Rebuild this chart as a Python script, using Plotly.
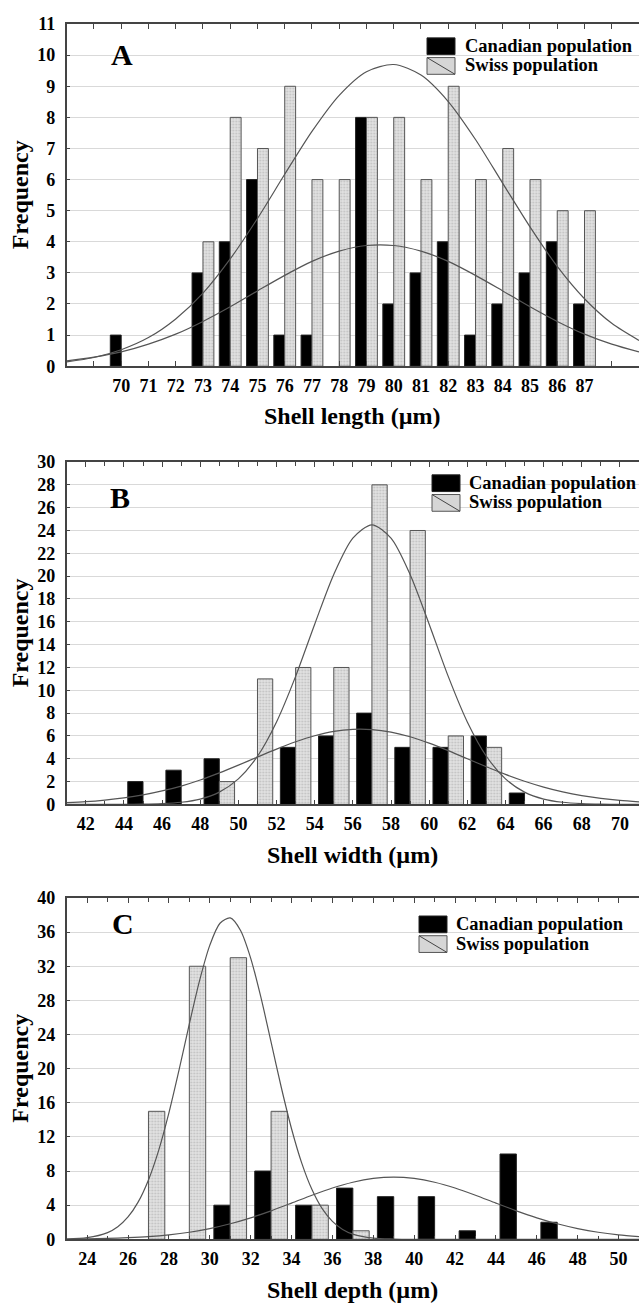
import plotly.graph_objects as go

W, H = 639, 1315

# ---------------- data ----------------
# Panel A: shell length (bin width 1 µm)
a_bins = [70, 71, 72, 73, 74, 75, 76, 77, 78, 79, 80, 81, 82, 83, 84, 85, 86, 87]
a_canadian = [1, 0, 0, 3, 4, 6, 1, 1, 0, 8, 2, 3, 4, 1, 2, 3, 4, 2]
a_swiss = [0, 0, 0, 4, 8, 7, 9, 6, 6, 8, 8, 6, 9, 6, 7, 6, 5, 5]
a_ticks = [69, 70, 71, 72, 73, 74, 75, 76, 77, 78, 79, 80, 81, 82, 83, 84, 85, 86, 87, 88]
a_tick_labels = ["", "70", "71", "72", "73", "74", "75", "76", "77", "78", "79",
                 "80", "81", "82", "83", "84", "85", "86", "87", ""]
a_curve_x = [68, 69, 70, 71, 72, 73, 74, 75, 76, 77, 78, 79, 80, 81, 82, 83, 84, 85, 86, 87, 88, 89]
a_swiss_curve = [0.14, 0.28, 0.53, 0.92, 1.52, 2.35, 3.45, 4.75, 6.17, 7.55, 8.71, 9.47,
                 9.70, 9.36, 8.51, 7.29, 5.88, 4.48, 3.21, 2.17, 1.38, 0.83]
a_canadian_curve = [0.17, 0.29, 0.46, 0.71, 1.03, 1.44, 1.91, 2.42, 2.92, 3.37, 3.70, 3.88,
                    3.88, 3.70, 3.37, 2.92, 2.42, 1.91, 1.44, 1.03, 0.71, 0.46]

# Panel B: shell width (bin width 2 µm)
b_bins = [45, 47, 49, 51, 53, 55, 57, 59, 61, 63, 65]
b_canadian = [2, 3, 4, 0, 5, 6, 8, 5, 5, 6, 1]
b_swiss = [0, 0, 2, 11, 12, 12, 28, 24, 6, 5, 0]
b_ticks = [42, 44, 46, 48, 50, 52, 54, 56, 58, 60, 62, 64, 66, 68, 70]
b_tick_labels = ["42", "44", "46", "48", "50", "52", "54", "56", "58", "60", "62", "64", "66", "68", "70"]
b_curve_x = [41, 42, 43, 44, 45, 46, 47, 48, 49, 50, 51, 52, 53, 54, 55, 56, 57, 58, 59, 60,
             61, 62, 63, 64, 65, 66, 67, 68, 69, 70, 71]
b_swiss_curve = [0.0, 0.0, 0.0, 0.01, 0.02, 0.07, 0.19, 0.47, 1.08, 2.24, 4.22, 7.23, 11.22,
                 15.79, 20.15, 23.33, 24.50, 23.33, 20.15, 15.79, 11.22, 7.23, 4.22, 2.24,
                 1.08, 0.47, 0.19, 0.07, 0.02, 0.01, 0.0]
b_canadian_curve = [0.15, 0.24, 0.38, 0.57, 0.83, 1.18, 1.61, 2.14, 2.76, 3.44, 4.15, 4.85,
                    5.49, 6.02, 6.40, 6.58, 6.56, 6.34, 5.93, 5.37, 4.71, 4.00, 3.30, 2.63,
                    2.03, 1.52, 1.10, 0.77, 0.53, 0.35, 0.22]

# Panel C: shell depth (bin width 2 µm)
c_bins = [27, 29, 31, 33, 35, 37, 39, 41, 43, 45, 47]
c_canadian = [0, 0, 4, 8, 4, 6, 5, 5, 1, 10, 2]
c_swiss = [15, 32, 33, 15, 4, 1, 0, 0, 0, 0, 0]
c_ticks = [24, 26, 28, 30, 32, 34, 36, 38, 40, 42, 44, 46, 48, 50]
c_tick_labels = ["24", "26", "28", "30", "32", "34", "36", "38", "40", "42", "44", "46", "48", "50"]
c_swiss_curve_x = [23, 24, 25, 25.5, 26, 26.5, 27, 27.5, 28, 28.5, 29, 29.5, 30, 30.5, 31,
                   31.5, 32, 32.5, 33, 33.5, 34, 34.5, 35, 35.5, 36, 36.5, 37, 38, 39, 40,
                   42, 44, 46, 48, 50, 51]
c_swiss_curve = [0.04, 0.19, 0.79, 1.48, 2.62, 4.39, 6.96, 10.43, 14.81, 19.88, 25.24, 30.32,
                 34.45, 37.04, 37.66, 36.22, 32.96, 28.37, 23.10, 17.79, 12.96, 8.93, 5.83,
                 3.59, 2.10, 1.16, 0.61, 0.14, 0.03, 0.0, 0.0, 0.0, 0.0, 0.0, 0.0, 0.0]
c_canadian_curve_x = [23, 24, 25, 26, 27, 28, 29, 30, 31, 32, 33, 34, 35, 36, 37, 38, 39, 40,
                      41, 42, 43, 44, 45, 46, 47, 48, 49, 50, 51]
c_canadian_curve = [0.03, 0.06, 0.10, 0.19, 0.32, 0.53, 0.83, 1.26, 1.82, 2.52, 3.34, 4.24,
                    5.16, 6.01, 6.69, 7.14, 7.30, 7.14, 6.69, 6.01, 5.16, 4.24, 3.34, 2.52,
                    1.82, 1.26, 0.83, 0.53, 0.32]

series_names = ["Canadian population", "Swiss population"]
panel_letters = ["A", "B", "C"]
x_titles = ["Shell length (µm)", "Shell width (µm)", "Shell depth (µm)"]
y_title = "Frequency"

# ---------------- layout helpers ----------------
FONT = "Liberation Serif, Times New Roman, serif"
LEFT = 66.7
px = lambda v: v / W
py = lambda v: 1 - v / H

panels = [
    dict(bins=a_bins, can=a_canadian, sw=a_swiss, bw=1, xr=[68, 89], yr=[0, 11], dy=1,
         ticks=a_ticks, labels=a_tick_labels, minor=None,
         cx=(a_curve_x, a_canadian_curve), sx=(a_curve_x, a_swiss_curve),
         top=14.3, bot=361.7, letter=(121.7, 45), title_y=412, freq_y=188,
         leg=(427, 28.3, 463)),
    dict(bins=b_bins, can=b_canadian, sw=b_swiss, bw=2, xr=[41, 71], yr=[0, 30], dy=2,
         ticks=b_ticks, labels=b_tick_labels, minor=1,
         cx=(b_curve_x, b_canadian_curve), sx=(b_curve_x, b_swiss_curve),
         top=459, bot=806.7, letter=(119.8, 495), title_y=858, freq_y=633,
         leg=(432, 472, 467)),
    dict(bins=c_bins, can=c_canadian, sw=c_swiss, bw=2, xr=[23, 51], yr=[0, 40], dy=4,
         ticks=c_ticks, labels=c_tick_labels, minor=1,
         cx=(c_canadian_curve_x, c_canadian_curve), sx=(c_swiss_curve_x, c_swiss_curve),
         top=901.7, bot=1248.3, letter=(122.7, 928), title_y=1300, freq_y=1075,
         leg=(419, 920, 454)),
]

fig = go.Figure()
shapes, annotations = [], []
tickfont = dict(family=FONT, size=18, color="black", weight="bold")

for i, p in enumerate(panels):
    sfx = "" if i == 0 else str(i + 1)
    xa, ya = "x" + sfx, "y" + sfx
    bw = p["bw"]
    fig.add_trace(go.Bar(
        x=p["bins"], y=[v if v else None for v in p["can"]], xaxis=xa, yaxis=ya,
        width=0.4 * bw, offset=-0.4 * bw, name=series_names[0], showlegend=False,
        marker=dict(color="black", line=dict(color="#222222", width=1))))
    fig.add_trace(go.Bar(
        x=p["bins"], y=[v if v else None for v in p["sw"]], xaxis=xa, yaxis=ya,
        width=0.4 * bw, offset=0, name=series_names[1], showlegend=False,
        marker=dict(color="#dedede", line=dict(color="#555555", width=1),
                    pattern=dict(shape=".", fgcolor="#9c9c9c", bgcolor="#e2e2e2",
                                 size=3, solidity=0.3))))
    for (cxv, cyv) in (p["cx"], p["sx"]):
        fig.add_trace(go.Scatter(
            x=cxv, y=cyv, xaxis=xa, yaxis=ya, mode="lines", showlegend=False,
            line=dict(color="#555555", width=1.2, shape="spline", smoothing=0.8),
            hoverinfo="skip"))

    xaxis = dict(domain=[LEFT / W, 1.0], range=p["xr"], anchor=ya,
                 tickmode="array", tickvals=p["ticks"], ticktext=p["labels"],
                 ticks="inside", ticklen=5, tickcolor="#444444", tickwidth=1,
                 showline=True, linecolor="#444444", linewidth=1.5, mirror="ticks",
                 showgrid=False, zeroline=False, tickfont=tickfont,
                 ticklabelstandoff=2)
    if p["minor"]:
        xaxis["minor"] = dict(dtick=p["minor"], ticks="inside", ticklen=4,
                              tickcolor="#444444", showgrid=False)
    yaxis = dict(domain=[py(p["bot"]), py(p["top"])], range=p["yr"], anchor=xa,
                 dtick=p["dy"], tick0=0, ticks="inside", ticklen=4, tickcolor="#444444",
                 showline=True, linecolor="#444444", linewidth=1.5,
                 showgrid=True, gridcolor="#d9d9d9", gridwidth=1, zeroline=False,
                 tickfont=tickfont, ticklabelstandoff=6)
    fig.layout["xaxis" + sfx] = xaxis
    fig.layout["yaxis" + sfx] = yaxis

    # panel letter
    lx, ly = p["letter"]
    annotations.append(dict(text=panel_letters[i], x=px(lx), y=py(ly), xref="paper", yref="paper",
                            showarrow=False, xanchor="center", yanchor="middle",
                            font=dict(family=FONT, size=30, color="black", weight="bold")))
    # axis titles
    annotations.append(dict(text=x_titles[i], x=px((LEFT + W) / 2), y=py(p["title_y"]),
                            xref="paper", yref="paper", showarrow=False,
                            xanchor="center", yanchor="middle",
                            font=dict(family=FONT, size=24, color="black", weight="bold")))
    annotations.append(dict(text=y_title, x=px(20), y=py(p["freq_y"]), textangle=-90,
                            xref="paper", yref="paper", showarrow=False,
                            xanchor="center", yanchor="middle",
                            font=dict(family=FONT, size=24, color="black", weight="bold")))
    # legend
    lx0, ly0, tx = p["leg"]
    sw_w, sw_h, gap = 28, 17, 3
    shapes.append(dict(type="rect", xref="paper", yref="paper",
                       x0=px(lx0), x1=px(lx0 + sw_w), y0=py(ly0), y1=py(ly0 + sw_h),
                       fillcolor="black", line=dict(color="#222222", width=1)))
    g0 = ly0 + sw_h + gap
    shapes.append(dict(type="rect", xref="paper", yref="paper",
                       x0=px(lx0), x1=px(lx0 + sw_w), y0=py(g0), y1=py(g0 + sw_h),
                       fillcolor="#d6d6d6", line=dict(color="#555555", width=1)))
    shapes.append(dict(type="line", xref="paper", yref="paper",
                       x0=px(lx0), x1=px(lx0 + sw_w), y0=py(g0), y1=py(g0 + sw_h),
                       line=dict(color="#444444", width=1)))
    for k, yy in enumerate([ly0 + sw_h / 2, g0 + sw_h / 2]):
        annotations.append(dict(text=series_names[k], x=px(tx), y=py(yy - 0.5),
                                xref="paper", yref="paper", showarrow=False,
                                xanchor="left", yanchor="middle",
                                font=dict(family=FONT, size=18.5, color="black", weight="bold")))

fig.update_layout(width=W, height=H, margin=dict(l=0, r=0, t=0, b=0),
                  paper_bgcolor="white", plot_bgcolor="white", barmode="overlay",
                  shapes=shapes, annotations=annotations, showlegend=False)

fig.write_html(
    "out.html",
    config={"displayModeBar": False},
    post_script="document.body.style.margin='0';document.body.style.padding='0';"
                "document.documentElement.style.overflow='hidden';"
                "document.body.style.overflow='hidden';",
)
